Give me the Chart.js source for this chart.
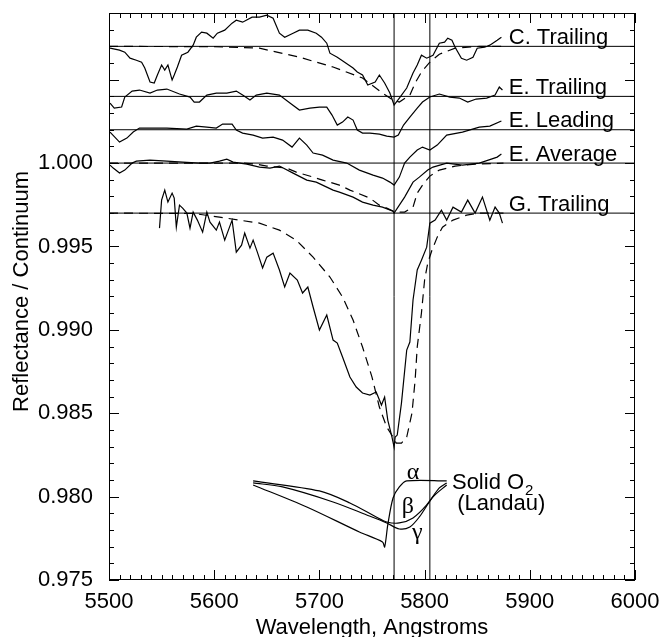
<!DOCTYPE html>
<html><head><meta charset="utf-8">
<script src="https://cdn.jsdelivr.net/npm/chart.js@4.4.1/dist/chart.umd.min.js"></script>
<style>html,body{margin:0;padding:0;background:#fff}canvas{display:block}</style>
</head><body>
<canvas id="c" width="663" height="637"></canvas>
<script>
// ---------- DATA ----------
const xTickStep = 100;
const yTickStep = 0.005;
const specNames = ['C. Trailing','E. Trailing','E. Leading','E. Average','G. Trailing'];
const baseVals  = [1.007, 1.004, 1.002, 1.000, 0.997];
const markerWl  = [5771, 5805];

const cTrailWl = [5501,5510,5515,5520,5526,5531,5534,5539,5543,5546,5550,5553,5556,5560,5562,5565,5569,5575,5580,5583,5588,5593,5599,5603,5610,5617,5621,5627,5636,5643,5650,5656,5662,5667,5675,5681,5689,5697,5702,5707,5710,5717,5724,5732,5736,5741,5746,5753,5757,5762,5767,5771,5776,5783,5789,5793,5797,5802,5808,5814,5819,5822,5826,5829,5835,5840,5846,5850,5857,5862,5869,5873];
const cTrailR  = [1.00689,1.00677,1.00665,1.00629,1.00617,1.00605,1.00570,1.00486,1.00480,1.00528,1.00588,1.00558,1.00588,1.00498,1.00528,1.00576,1.00647,1.00665,1.00707,1.00755,1.00785,1.00779,1.00749,1.00779,1.00797,1.00839,1.00857,1.00845,1.00875,1.00875,1.00887,1.00869,1.00779,1.00755,1.00779,1.00797,1.00797,1.00779,1.00755,1.00719,1.00659,1.00635,1.00605,1.00570,1.00546,1.00528,1.00468,1.00486,1.00528,1.00480,1.00420,1.00348,1.00390,1.00450,1.00540,1.00588,1.00647,1.00629,1.00647,1.00719,1.00725,1.00749,1.00737,1.00695,1.00629,1.00617,1.00635,1.00689,1.00695,1.00707,1.00737,1.00755];
const cModelWl = [5500,5600,5643,5681,5713,5741,5760,5770,5776,5786,5791,5797,5805,5814,5829,5852,5875];
const cModelR  = [1.00700,1.00698,1.00689,1.00635,1.00576,1.00510,1.00420,1.00378,1.00366,1.00408,1.00480,1.00546,1.00605,1.00653,1.00689,1.00700,1.00700];

const eTrailWl = [5501,5505,5512,5515,5522,5529,5539,5546,5555,5567,5577,5581,5586,5593,5602,5612,5621,5627,5634,5640,5650,5662,5672,5681,5691,5700,5707,5712,5717,5722,5727,5732,5736,5741,5748,5757,5764,5771,5775,5780,5786,5793,5798,5805,5814,5824,5833,5841,5849,5859,5867,5871,5874];
const eTrailR  = [1.00360,1.00330,1.00336,1.00396,1.00432,1.00438,1.00420,1.00438,1.00444,1.00414,1.00396,1.00366,1.00366,1.00408,1.00420,1.00420,1.00432,1.00408,1.00378,1.00408,1.00420,1.00408,1.00360,1.00318,1.00330,1.00336,1.00336,1.00288,1.00228,1.00246,1.00276,1.00258,1.00198,1.00180,1.00180,1.00174,1.00162,1.00156,1.00168,1.00228,1.00276,1.00330,1.00366,1.00396,1.00414,1.00396,1.00390,1.00366,1.00384,1.00390,1.00408,1.00456,1.00438];

const eLeadWl = [5501,5510,5517,5523,5529,5542,5555,5574,5583,5593,5602,5608,5617,5621,5627,5637,5646,5656,5665,5674,5681,5688,5694,5703,5713,5726,5738,5751,5760,5767,5771,5776,5781,5786,5793,5798,5805,5812,5821,5836,5852,5862,5873];
const eLeadR  = [1.00186,1.00126,1.00150,1.00186,1.00210,1.00210,1.00210,1.00204,1.00222,1.00216,1.00210,1.00234,1.00234,1.00198,1.00180,1.00168,1.00150,1.00156,1.00138,1.00096,1.00150,1.00108,1.00060,1.00048,1.00018,1.00000,0.99958,0.99928,0.99910,0.99886,0.99868,0.99916,1.00000,1.00036,1.00078,1.00096,1.00078,1.00108,1.00168,1.00186,1.00216,1.00222,1.00252];

const eAvgWl = [5501,5504,5510,5515,5522,5526,5539,5555,5570,5586,5596,5605,5612,5618,5631,5643,5653,5662,5675,5688,5697,5707,5713,5719,5732,5741,5751,5760,5770,5771,5781,5789,5795,5803,5808,5821,5836,5852,5869,5873];
const eAvgR  = [0.99988,0.99970,0.99940,0.99958,1.00000,1.00012,1.00018,1.00012,1.00006,1.00000,1.00000,1.00012,1.00024,1.00006,0.99994,0.99976,0.99970,0.99982,0.99940,0.99898,0.99886,0.99856,0.99838,0.99826,0.99796,0.99766,0.99748,0.99736,0.99712,0.99700,0.99796,0.99886,0.99916,0.99958,0.99976,1.00000,0.99988,1.00000,1.00036,1.00054];
const eModelWl = [5500,5627,5640,5650,5669,5678,5694,5703,5719,5729,5748,5757,5764,5770,5776,5781,5789,5793,5798,5805,5814,5829,5848,5875];
const eModelR  = [1.00000,1.00000,0.99994,0.99982,0.99970,0.99946,0.99916,0.99898,0.99868,0.99838,0.99790,0.99748,0.99730,0.99712,0.99706,0.99706,0.99736,0.99820,0.99868,0.99922,0.99958,0.99982,0.99994,1.00000];

const gTrailWl = [5548,5550,5553,5556,5560,5562,5564,5567,5570,5574,5577,5580,5584,5589,5593,5596,5602,5605,5610,5617,5621,5626,5629,5634,5637,5641,5646,5650,5656,5662,5667,5672,5679,5684,5689,5694,5700,5707,5713,5717,5722,5729,5735,5741,5748,5754,5759,5762,5765,5769,5771,5772,5774,5778,5783,5786,5789,5793,5797,5802,5805,5810,5816,5821,5827,5835,5841,5848,5855,5862,5867,5871,5874];
const gTrailR  = [0.99610,0.99778,0.99838,0.99766,0.99820,0.99790,0.99616,0.99748,0.99730,0.99700,0.99610,0.99706,0.99658,0.99586,0.99706,0.99646,0.99598,0.99646,0.99538,0.99658,0.99466,0.99508,0.99580,0.99490,0.99538,0.99466,0.99371,0.99436,0.99460,0.99359,0.99257,0.99341,0.99299,0.99221,0.99257,0.99137,0.98999,0.99089,0.98939,0.98921,0.98837,0.98717,0.98657,0.98621,0.98609,0.98627,0.98549,0.98597,0.98459,0.98357,0.98297,0.98357,0.98369,0.98561,0.98879,0.98927,0.99179,0.99359,0.99418,0.99496,0.99640,0.99658,0.99718,0.99658,0.99736,0.99706,0.99778,0.99700,0.99796,0.99658,0.99736,0.99700,0.99640];
const gModelWl = [5500,5580,5605,5624,5643,5662,5678,5694,5710,5722,5732,5741,5750,5757,5764,5770,5773,5778,5783,5788,5791,5793,5797,5800,5803,5807,5812,5817,5827,5840,5852,5875];
const gModelR  = [0.99700,0.99698,0.99676,0.99658,0.99640,0.99598,0.99538,0.99436,0.99317,0.99197,0.99059,0.98897,0.98717,0.98537,0.98417,0.98357,0.98321,0.98321,0.98357,0.98501,0.98699,0.98897,0.99101,0.99299,0.99401,0.99478,0.99556,0.99616,0.99658,0.99688,0.99700,0.99700];

// Solid O2 (Landau) alpha / beta / gamma bands
const alphaWl = [5637,5688,5738,5760,5762,5765,5770,5776,5783,5821];
const alphaR  = [0.98070,0.97938,0.97788,0.97728,0.97698,0.97830,0.97992,0.98058,0.98094,0.98094];
const betaWl  = [5637,5700,5729,5754,5764,5776,5789,5802,5814,5821];
const betaR   = [0.98094,0.98034,0.97962,0.97878,0.97848,0.97842,0.97872,0.97950,0.98052,0.98082];
const gammaWl = [5637,5665,5713,5745,5764,5776,5786,5795,5808,5821];
const gammaR  = [0.98082,0.98058,0.97968,0.97890,0.97842,0.97806,0.97818,0.97878,0.97998,0.98070];
const bandNames = ['\u03b1','\u03b2','\u03b3'];

// ---------- BUILD ----------
const X_MIN = 5500, X_MAX = 6000, Y_MIN = 0.975, Y_MAX = 1.009;
const pts = (w, r) => w.map((v, i) => ({x: v, y: r[i]}));
const SANS = "'Liberation Sans', Arial, sans-serif";

const datasets = [];
baseVals.forEach(b => datasets.push({data: [{x: X_MIN, y: b}, {x: X_MAX, y: b}], borderWidth: 1}));
markerWl.forEach(w => datasets.push({data: [{x: w, y: Y_MIN}, {x: w, y: Y_MAX}], borderWidth: 1}));
[[cTrailWl,cTrailR],[eTrailWl,eTrailR],[eLeadWl,eLeadR],[eAvgWl,eAvgR],[gTrailWl,gTrailR]]
  .forEach(([w,r]) => datasets.push({data: pts(w,r), borderWidth: 1.2}));
[[cModelWl,cModelR],[eModelWl,eModelR],[gModelWl,gModelR]]
  .forEach(([w,r]) => datasets.push({data: pts(w,r), borderWidth: 1.2, borderDash: [9,6]}));
[[alphaWl,alphaR],[betaWl,betaR],[gammaWl,gammaR]]
  .forEach(([w,r]) => datasets.push({data: pts(w,r), borderWidth: 1.2, tension: 0.3}));
datasets.forEach(d => { d.borderColor = '#000'; d.pointRadius = 0; d.fill = false; if (d.tension === undefined) d.tension = 0; });

const decor = {
  id: 'decor',
  afterDatasetsDraw(chart) {
    const {ctx, chartArea: a, scales: {x, y}} = chart;
    ctx.save();
    ctx.strokeStyle = '#000'; ctx.lineWidth = 1;
    ctx.strokeRect(a.left + 0.5, a.top + 0.5, a.right - a.left - 1, a.bottom - a.top - 1);
    ctx.beginPath();
    for (let i = 0; i <= (X_MAX - X_MIN) / 10; i++) {
      const px = Math.round(x.getPixelForValue(X_MIN + i * 10)) + 0.5;
      const L = (i % 10 === 0) ? 10 : 5;
      ctx.moveTo(px, a.bottom); ctx.lineTo(px, a.bottom - L);
      ctx.moveTo(px, a.top); ctx.lineTo(px, a.top + L);
    }
    for (let i = 0; i <= 34; i++) {
      const py = Math.round(y.getPixelForValue(Y_MIN + i * 0.001)) + 0.5;
      const L = (i % 5 === 0) ? 10 : 5;
      ctx.moveTo(a.left, py); ctx.lineTo(a.left + L, py);
      ctx.moveTo(a.right, py); ctx.lineTo(a.right - L, py);
    }
    ctx.stroke();

    ctx.fillStyle = '#000';
    ctx.font = '22px ' + SANS;
    ctx.textAlign = 'left'; ctx.textBaseline = 'alphabetic';
    specNames.forEach((n, i) => {
      ctx.fillText(n, x.getPixelForValue(5880), y.getPixelForValue(baseVals[i]) - 2.5);
    });
    // band labels
    ctx.font = '24px "Liberation Serif", "DejaVu Serif", serif';
    ctx.textAlign = 'center'; ctx.textBaseline = 'middle';
    const bandPos = [[5789, 0.98142], [5784, 0.97938], [5793, 0.97782]];
    bandNames.forEach((n, i) => ctx.fillText(n, x.getPixelForValue(bandPos[i][0]), y.getPixelForValue(bandPos[i][1])));
    // Solid O2 label
    ctx.font = '22px ' + SANS;
    ctx.textAlign = 'left'; ctx.textBaseline = 'alphabetic';
    const sx = x.getPixelForValue(5826), sy = y.getPixelForValue(0.98046);
    ctx.fillText('Solid O', sx, sy);
    const w = ctx.measureText('Solid O').width;
    ctx.font = '15px ' + SANS;
    ctx.fillText('2', sx + w + 1, sy + 6);
    ctx.font = '22px ' + SANS;
    ctx.fillText('(Landau)', x.getPixelForValue(5831), y.getPixelForValue(0.97920));
    // axis titles
    ctx.textAlign = 'center';
    ctx.fillText('Wavelength, Angstroms', (a.left + a.right) / 2, 634);
    ctx.save();
    ctx.translate(28, (a.top + a.bottom) / 2 - 5);
    ctx.rotate(-Math.PI / 2);
    ctx.fillText('Reflectance / Continuum', 0, 0);
    ctx.restore();
    ctx.restore();
  }
};

new Chart(document.getElementById('c'), {
  type: 'line',
  data: {datasets},
  options: {
    responsive: false, animation: false, events: [],
    layout: {padding: {left: 0, right: 28, top: 13, bottom: 0}},
    plugins: {legend: {display: false}, tooltip: {enabled: false}},
    scales: {
      x: {
        type: 'linear', min: X_MIN, max: X_MAX,
        grid: {display: false}, border: {display: false},
        ticks: {stepSize: xTickStep, maxRotation: 0, autoSkip: false, padding: 1, color: '#000',
                font: {family: SANS, size: 22}, callback: v => String(v)},
        afterFit: s => { s.height = 57; s.paddingLeft = 0; s.paddingRight = 0; s.paddingTop = 0; s.paddingBottom = 0; }
      },
      y: {
        type: 'linear', min: Y_MIN, max: Y_MAX,
        grid: {display: false}, border: {display: false},
        ticks: {stepSize: yTickStep, includeBounds: false, padding: 8, color: '#000',
                font: {family: SANS, size: 22},
                callback: v => (v > 1.0005 ? '' : Number(v).toFixed(3))},
        afterFit: s => { s.width = 109; s.paddingLeft = 0; s.paddingRight = 0; s.paddingTop = 0; s.paddingBottom = 0; }
      }
    }
  },
  plugins: [decor]
});
</script>
</body></html>
